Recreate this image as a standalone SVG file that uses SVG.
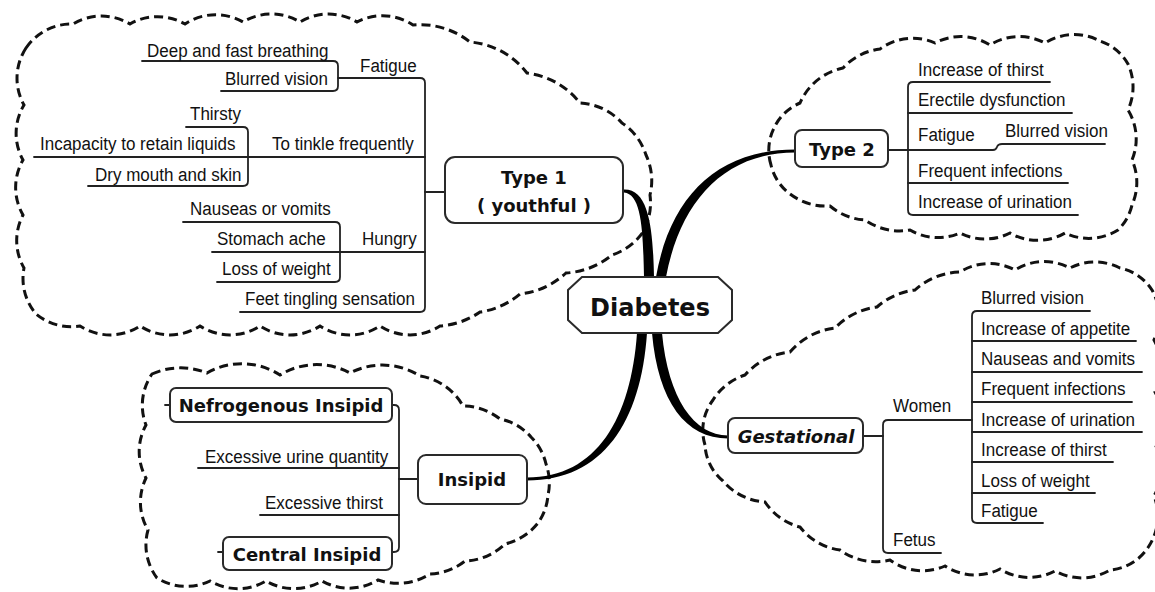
<svg xmlns="http://www.w3.org/2000/svg" width="1155" height="592" viewBox="0 0 1155 592">
<style>
.cloud{fill:none;stroke:#111;stroke-width:3;stroke-dasharray:9 5}
.br{fill:none;stroke:#222;stroke-width:1.8;stroke-linecap:round;stroke-linejoin:round}
.t{font-family:"Liberation Sans",Arial,sans-serif;font-size:19px;fill:#111}
.box{fill:#fff;stroke:#2a2a2a;stroke-width:2}
.nl{font-family:"DejaVu Sans",Verdana,sans-serif;font-weight:bold;font-size:18px;fill:#111;text-anchor:middle}
.con{fill:#000}
</style>
<rect width="1155" height="592" fill="#fff"/>
<g id="clouds">
<path class="cloud" d="M 26 48 A 55 55 0 0 1 73 24 A 55 55 0 0 1 130 24 A 55 55 0 0 1 185 24 A 55 55 0 0 1 243 22 A 55 55 0 0 1 300 22 A 55 55 0 0 1 357 22 A 55 55 0 0 1 413 25 A 80 80 0 0 1 470 42 A 80 80 0 0 1 527 73 A 80 80 0 0 1 580 103 A 60 60 0 0 1 622 123 A 60 60 0 0 1 646 155 A 60 60 0 0 1 650 195 A 60 60 0 0 1 643 232 A 60 60 0 0 1 612 255 A 80 80 0 0 1 566 273 A 80 80 0 0 1 520 294 A 80 80 0 0 1 480 312 A 80 80 0 0 1 440 326 A 55 55 0 0 1 380 326 A 55 55 0 0 1 320 326 A 55 55 0 0 1 260 326 A 55 55 0 0 1 200 326 A 55 55 0 0 1 140 326 A 55 55 0 0 1 80 326 A 55 55 0 0 1 36 314 A 55 55 0 0 1 24 268 A 55 55 0 0 1 23 215 A 55 55 0 0 1 23 160 A 55 55 0 0 1 24 105 A 55 55 0 0 1 26 48 Z"/>
<path class="cloud" d="M 771 165 A 50 50 0 0 1 774 128 A 50 50 0 0 1 800 103 A 60 60 0 0 1 843 68 A 60 60 0 0 1 880 49 A 55 55 0 0 1 935 43 A 55 55 0 0 1 990 45 A 55 55 0 0 1 1045 43 A 55 55 0 0 1 1100 41 A 50 50 0 0 1 1128 64 A 55 55 0 0 1 1128 110 A 55 55 0 0 1 1132 160 A 55 55 0 0 1 1132 205 A 50 50 0 0 1 1118 230 A 55 55 0 0 1 1065 233 A 55 55 0 0 1 1010 233 A 55 55 0 0 1 960 233 A 55 55 0 0 1 910 230 A 60 60 0 0 1 865 220 A 60 60 0 0 1 830 206 A 60 60 0 0 1 790 194 A 50 50 0 0 1 771 165 Z"/>
<path class="cloud" d="M 705 445 A 50 50 0 0 1 713 400 A 60 60 0 0 1 745 375 A 70 70 0 0 1 790 352 A 70 70 0 0 1 835 328 A 70 70 0 0 1 877 307 A 70 70 0 0 1 915 290 A 70 70 0 0 1 960 272 A 55 55 0 0 1 1015 270 A 55 55 0 0 1 1070 268 A 55 55 0 0 1 1120 268 A 50 50 0 0 1 1152 290 A 55 55 0 0 1 1154 340 A 55 55 0 0 1 1155 392 A 55 55 0 0 1 1155 444 A 55 55 0 0 1 1154 496 A 55 55 0 0 1 1149 546 A 50 50 0 0 1 1110 570 A 55 55 0 0 1 1055 571 A 55 55 0 0 1 1000 569 A 55 55 0 0 1 945 566 A 55 55 0 0 1 890 560 A 60 60 0 0 1 840 550 A 60 60 0 0 1 800 527 A 60 60 0 0 1 765 502 A 60 60 0 0 1 723 481 A 50 50 0 0 1 705 445 Z"/>
<path class="cloud" d="M 152 374 A 70 70 0 0 1 207 373 A 70 70 0 0 1 280 375 A 70 70 0 0 1 350 373 A 70 70 0 0 1 420 376 A 60 60 0 0 1 463 406 A 60 60 0 0 1 500 419 A 55 55 0 0 1 531 437 A 55 55 0 0 1 546 464 A 55 55 0 0 1 548 495 A 55 55 0 0 1 538 523 A 60 60 0 0 1 505 544 A 60 60 0 0 1 465 561 A 60 60 0 0 1 430 574 A 60 60 0 0 1 378 580 A 55 55 0 0 1 322 581 A 55 55 0 0 1 266 581 A 55 55 0 0 1 210 581 A 55 55 0 0 1 157 578 A 55 55 0 0 1 148 530 A 55 55 0 0 1 146 478 A 55 55 0 0 1 146 425 A 55 55 0 0 1 152 374 Z"/>
</g>
<g id="connectors">
<path class="con" d="M 654 277 C 653 232, 650 189, 624 189.5 L 624 192.5 C 642 194, 643 232, 644 277 Z"/>
<path class="con" d="M 656 277 C 670 197, 717 149.5, 795 149.5 L 795 152.5 C 723 152.5, 680 203, 666 277 Z"/>
<path class="con" d="M 637 333 C 631 418, 597 477.5, 527 477.5 L 527 480.5 C 603 480.5, 641 422, 647 333 Z"/>
<path class="con" d="M 652 333 C 658 402, 686 438.5, 728 438.5 L 728 435.5 C 694 435.5, 668 398, 662 333 Z"/>
<path class="br" d="M 338 78 L 420 78 Q 425 78 425 83 L 425 307 Q 425 312 420 312 L 240 312"/>
<path class="br" d="M 425 192 L 445 192"/>
<path class="br" d="M 34 157 L 425 157"/>
<path class="br" d="M 212 252 L 425 252"/>
<path class="br" d="M 142 61 L 333 61 Q 338 61 338 66 L 338 86 Q 338 91 333 91 L 221 91"/>
<path class="br" d="M 186 127 L 243 127 Q 248 127 248 132 L 248 181 Q 248 186 243 186 L 88 186"/>
<path class="br" d="M 183 222 L 335 222 Q 340 222 340 227 L 340 277 Q 340 282 335 282 L 217 282"/>
<path class="br" d="M 888 150 L 908 150"/>
<path class="br" d="M 1050 82 L 913 82 Q 908 82 908 87 L 908 210 Q 908 215 913 215 L 1078 215"/>
<path class="br" d="M 908 113 L 1072 113"/>
<path class="br" d="M 908 183 L 1068 183"/>
<path class="br" d="M 908 150 L 993 150 Q 996 150 997 147 Q 998 144 1002 144 L 1105 144"/>
<path class="br" d="M 863 436 L 883 436"/>
<path class="br" d="M 972 420 L 888 420 Q 883 420 883 425 L 883 548 Q 883 553 888 553 L 941 553"/>
<path class="br" d="M 1090 311 L 977 311 Q 972 311 972 316 L 972 518 Q 972 523 977 523 L 1043 523"/>
<path class="br" d="M 972 341 L 1136 341 M 972 372 L 1142 372 M 972 402 L 1132 402 M 972 432 L 1142 432 M 972 462 L 1113 462 M 972 493 L 1095 493"/>
<path class="br" d="M 418 479 L 399 479"/>
<path class="br" d="M 392 405 L 394 405 Q 399 405 399 410 L 399 547 Q 399 552 394 552 L 392 552"/>
<path class="br" d="M 198 468 L 399 468"/>
<path class="br" d="M 260 515 L 399 515"/>
<path class="br" d="M 165 405 L 170 405 M 218 552 L 223 552"/>
</g>
<g id="type1-labels">
<text class="t" transform="translate(147 57) scale(0.895 1)">Deep and fast breathing</text>
<text class="t" transform="translate(225 85) scale(0.895 1)">Blurred vision</text>
<text class="t" transform="translate(360 72) scale(0.895 1)">Fatigue</text>
<text class="t" transform="translate(190 120) scale(0.895 1)">Thirsty</text>
<text class="t" transform="translate(40 150) scale(0.895 1)">Incapacity to retain liquids</text>
<text class="t" transform="translate(272 150) scale(0.895 1)">To tinkle frequently</text>
<text class="t" transform="translate(95 181) scale(0.895 1)">Dry mouth and skin</text>
<text class="t" transform="translate(190 215) scale(0.895 1)">Nauseas or vomits</text>
<text class="t" transform="translate(217 245) scale(0.895 1)">Stomach ache</text>
<text class="t" transform="translate(362 245) scale(0.895 1)">Hungry</text>
<text class="t" transform="translate(222 275) scale(0.895 1)">Loss of weight</text>
<text class="t" transform="translate(245 305) scale(0.895 1)">Feet tingling sensation</text>
</g>
<g id="type2-labels">
<text class="t" transform="translate(918 76) scale(0.895 1)">Increase of thirst</text>
<text class="t" transform="translate(918 106) scale(0.895 1)">Erectile dysfunction</text>
<text class="t" transform="translate(918 141) scale(0.895 1)">Fatigue</text>
<text class="t" transform="translate(1005 137) scale(0.895 1)">Blurred vision</text>
<text class="t" transform="translate(918 177) scale(0.895 1)">Frequent infections</text>
<text class="t" transform="translate(918 208) scale(0.895 1)">Increase of urination</text>
</g>
<g id="gestational-labels">
<text class="t" transform="translate(893 412) scale(0.895 1)">Women</text>
<text class="t" transform="translate(893 546) scale(0.895 1)">Fetus</text>
<text class="t" transform="translate(981 304) scale(0.895 1)">Blurred vision</text>
<text class="t" transform="translate(981 335) scale(0.895 1)">Increase of appetite</text>
<text class="t" transform="translate(981 365) scale(0.895 1)">Nauseas and vomits</text>
<text class="t" transform="translate(981 395) scale(0.895 1)">Frequent infections</text>
<text class="t" transform="translate(981 426) scale(0.895 1)">Increase of urination</text>
<text class="t" transform="translate(981 456) scale(0.895 1)">Increase of thirst</text>
<text class="t" transform="translate(981 487) scale(0.895 1)">Loss of weight</text>
<text class="t" transform="translate(981 517) scale(0.895 1)">Fatigue</text>
</g>
<g id="insipid-labels">
<text class="t" transform="translate(205 463) scale(0.895 1)">Excessive urine quantity</text>
<text class="t" transform="translate(265 509) scale(0.895 1)">Excessive thirst</text>
</g>
<g id="node-diabetes">
<polygon class="box" points="582,277 718,277 732,290 732,320 718,333 582,333 568,320 568,290"/>
<text class="nl" x="650" y="316" style="font-size:24px">Diabetes</text>
</g>
<g id="node-type1">
<rect class="box" x="445" y="157" width="178" height="66" rx="10"/>
<text class="nl" x="534" y="184">Type 1</text>
<text class="nl" x="534" y="212">( youthful )</text>
</g>
<g id="node-type2">
<rect class="box" x="795" y="130" width="93" height="37" rx="7"/>
<text class="nl" x="842" y="156">Type 2</text>
</g>
<g id="node-gestational">
<rect class="box" x="728" y="418" width="135" height="35" rx="7"/>
<text class="nl" x="796" y="443" style="font-style:italic">Gestational</text>
</g>
<g id="node-insipid">
<rect class="box" x="418" y="455" width="109" height="49" rx="8"/>
<text class="nl" x="472" y="486">Insipid</text>
</g>
<g id="node-nefrogenous">
<rect class="box" x="170" y="388" width="222" height="34" rx="6"/>
<text class="nl" x="281" y="412">Nefrogenous Insipid</text>
</g>
<g id="node-central">
<rect class="box" x="223" y="537" width="169" height="33" rx="6"/>
<text class="nl" x="307" y="561">Central Insipid</text>
</g>
</svg>
